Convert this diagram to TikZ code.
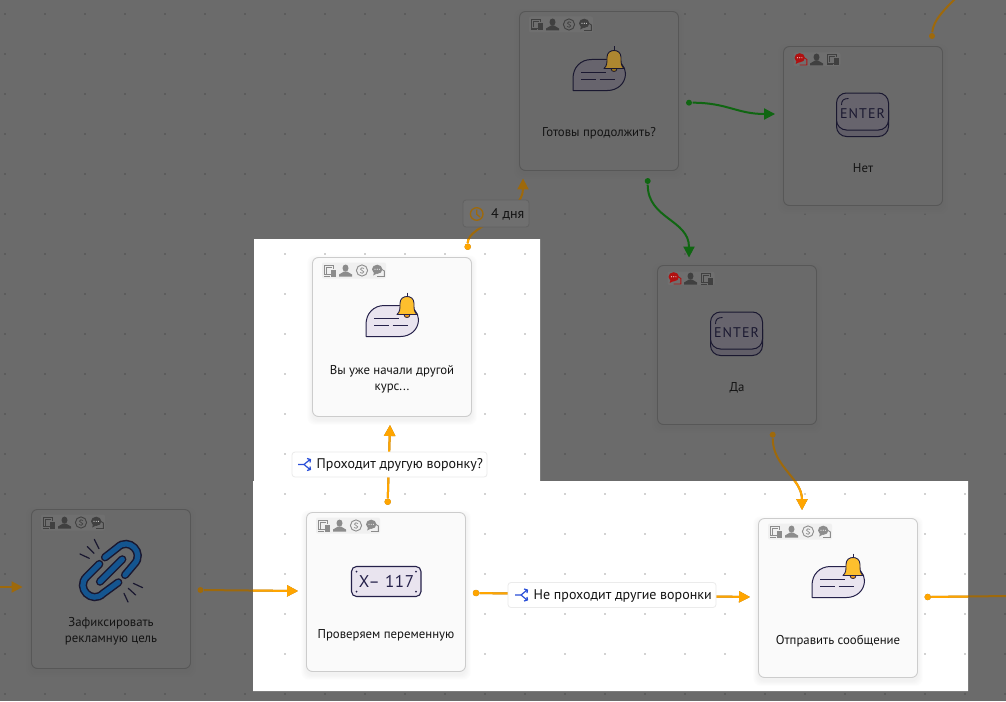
\documentclass[tikz,border=0pt]{standalone}
\usepackage{fontspec}
\setmainfont{PT Sans}
\newfontfamily\keyfont[LetterSpace=8]{PT Sans}
\newfontfamily\platefont[LetterSpace=4]{PT Sans}
\usetikzlibrary{arrows.meta}
\definecolor{bgdark}{HTML}{6B6B6B}
\definecolor{dotdark}{HTML}{5C5C5C}
\definecolor{dotlight}{HTML}{D2D2D2}
\definecolor{orangehi}{HTML}{FFA500}
\definecolor{orangelo}{HTML}{9E690B}
\definecolor{greenlo}{HTML}{106612}
\definecolor{blueic}{HTML}{2A4FD8}
\definecolor{zafblue}{HTML}{145590}
\definecolor{chatred}{HTML}{B01010}
\definecolor{LE}{HTML}{E9E4EF}
\definecolor{LB}{HTML}{FDBF2D}
\definecolor{LC}{HTML}{F5A01E}
\definecolor{LI}{HTML}{25214A}
\definecolor{LK}{HTML}{DDD7E6}
\definecolor{DE}{HTML}{67646D}
\definecolor{DB}{HTML}{AE8730}
\definecolor{DC}{HTML}{A0781A}
\definecolor{DI}{HTML}{1A1830}
\definecolor{DK}{HTML}{615E68}
\definecolor{DF}{HTML}{6A6A6A}
\definecolor{DL}{HTML}{575757}
\definecolor{DBG}{HTML}{6F6F6F}
\definecolor{DIC}{HTML}{404040}
\newcommand\lightset{%
  \colorlet{cardfill}{white!98!black}\colorlet{cardline}{black!20}%
  \colorlet{icbg}{black!6}\colorlet{ic}{black!45}%
  \colorlet{bub}{LE}\colorlet{bellc}{LB}\colorlet{bellk}{LC}%
  \colorlet{ink}{LI}\colorlet{txt}{black!92}\colorlet{keyb}{LK}\colorlet{shadowbase}{white}\def\shadowstep{1}}
\newcommand\darkset{%
  \colorlet{cardfill}{DF}\colorlet{cardline}{DL}%
  \colorlet{icbg}{DBG}\colorlet{ic}{DIC}%
  \colorlet{bub}{DE}\colorlet{bellc}{DB}\colorlet{bellk}{DC}%
  \colorlet{ink}{DI}\colorlet{txt}{black!92}\colorlet{keyb}{DK}\colorlet{shadowbase}{bgdark}\def\shadowstep{.6}}
\tikzset{
  cardnode/.style={draw=cardline,fill=cardfill,line width=.9pt,rounded corners=6pt,minimum width=159pt,minimum height=159pt,inner sep=0pt},
  cardtext/.style={text=txt,font=\fontsize{12.8}{16}\selectfont,align=center,inner sep=0pt},
  linktext/.style={text=black!92,font=\fontsize{14}{16}\selectfont,inner sep=0pt,anchor=west},
  lightlabel/.style={draw=black!8,fill=white,line width=.8pt,rounded corners=3pt,inner sep=0pt},
  darklabel/.style={draw=black!62,fill=DBG,line width=.8pt,rounded corners=3pt,inner sep=0pt},
  linkline/.style={line width=2pt,-{Triangle[length=11pt,width=11pt]}},
  plainline/.style={line width=2pt},
  portdot/.style={circle,inner sep=0pt,minimum size=7pt},
}
% ---------- small icons ----------
\newcommand\icdev[2]{\begin{scope}[shift={(#1,#2)}]
  \draw[ic,line width=.9pt] (8,10) -- (1,10) -- (1,1) -- (10,1) -- (10,4);
  \draw[ic,line width=.9pt] (3,9) -- (3,3) -- (8,3);
  \fill[ic] (7,5) rectangle (12,12);
  \fill[ic] (0,11) rectangle (6,12);
\end{scope}}
\newcommand\icperson[2]{\begin{scope}[shift={(#1,#2)}]
  \fill[ic] (6.5,3.6) ellipse (3 and 3.6);
  \fill[ic] (0,12) -- (0,10) .. controls (1,8.4) and (4,8.6) .. (5,7) -- (8,7) .. controls (9,8.6) and (12,8.4) .. (13,10) -- (13,12) -- cycle;
\end{scope}}
\newcommand\iccoin[2]{\begin{scope}[shift={(#1,#2)}]
  \draw[ic,line width=.9pt] (6,6) circle (5.6);
  \draw[ic,line width=.7pt] (8,4) .. controls (7,2.8) and (4.4,3) .. (4.4,4.6) .. controls (4.4,6.6) and (7.8,5.4) .. (7.8,7.4) .. controls (7.8,9) and (5,9.2) .. (4,8);
\end{scope}}
\newcommand\icchat[2]{\begin{scope}[shift={(#1,#2)}]
  \draw[ic,line width=.9pt] (10,5) -- (12.4,6.5) -- (12.4,12) -- (5,12);
  \fill[ic] (5.2,4.8) ellipse (5.2 and 4.6);
  \fill[ic] (2,8) -- (1.2,11) -- (5,9) -- cycle;
  \fill[white!80!ic] (3,4.8) circle (.6) (5.2,4.8) circle (.6) (7.4,4.8) circle (.6);
\end{scope}}
\newcommand\iconsA{%
  \fill[icbg,rounded corners=2pt] (9.5,5) rectangle (73.5,21);
  \icdev{11}{7}\icperson{26.5}{7}\iccoin{43.5}{7}\icchat{59.5}{7}}
\newcommand\iconsB{%
  \fill[icbg,rounded corners=2pt] (10,6) rectangle (57,19.5);
  \begingroup\colorlet{ic}{chatred}\icchat{11}{6.5}\endgroup
  \icperson{26.5}{7}\icdev{43}{7}}
% ---------- large icons ----------
\newcommand\msgicon{%
  \draw[ink,fill=bub,line width=1pt,line join=round] (53.5,79) -- (53.5,67) .. controls (53.5,56) and (61,48) .. (72,48) -- (92,48) .. controls (100,48) and (106,55) .. (106,62) .. controls (106,72) and (98,79) .. (88,79) -- cycle;
  \draw[ink,line width=.9pt] (61.5,61) -- (86.5,61) (61.5,68) -- (76,68) (80,68) -- (95.5,68);
  \begin{scope}[shift={(94.5,35)}]
    \draw[ink,line width=.8pt] (0,0) -- (0,4);
    \draw[ink,fill=bellk,line width=.8pt] (-3,22) .. controls (-3,26) and (3,26) .. (3,22) -- cycle;
    \draw[ink,fill=bellc,line width=.9pt,line join=round] (-10,22) .. controls (-7,19) and (-7,17) .. (-7,11) .. controls (-7,6) and (-3.5,4) .. (0,4) .. controls (3.5,4) and (7,6) .. (7,11) .. controls (7,17) and (7,19) .. (10,22) -- cycle;
  \end{scope}}
\newcommand\enter[1]{%
  \draw[ink,fill=keyb,line width=1pt,rounded corners=10pt] (53,54) rectangle (105,90);
  \draw[ink,fill=bub,line width=1pt,rounded corners=10pt] (53,46.5) rectangle (105,83.5);
  \draw[ink,line width=.9pt] (58,58.5) .. controls (58,54) and (60,52) .. (65,52);
  \node[text=ink,font=\keyfont\fontsize{14}{14}\selectfont,inner sep=0pt] (#1) at (79,67.5) {ENTER};}
% ---------- card box ----------
\newcommand\cardbox[3]{%
  \foreach \s in {5,4,...,1}{\pgfmathsetmacro\shadowmix{100-(6-\s)*\shadowstep}\fill[shadowbase!\shadowmix!black,rounded corners=7pt] ({#2-79.5-\s},{#3-79.5-\s+3}) rectangle ({#2+79.5+\s},{#3+79.5+\s+3});}
  \node[cardnode] (#1) at (#2,#3) {};}
% ---------- connectors, drawn twice: dimmed, then lit inside the windows ----------
\newcommand\linkpaths{%
  \draw[plainline,lo] (d8) .. controls +(1,-16) and +(-10,10) .. (freeA);
  \fill[lo] (d8) circle (3);
  \draw[linkline,lo] (freeB) -- ([xshift=-8.5pt,yshift=2pt]zaf.west);
  \draw[linkline,lo] (d1) -- ([xshift=-8pt,yshift=1pt]check.west);
  \fill[lo] (d1) circle (3);
  \draw[linkline,lo] (d2) -- ([xshift=-2pt,yshift=-8pt]course.south);
  \fill[lo] (d2) circle (3.2);
  \draw[linkline,lo] (d3) -- ([xshift=-8pt,yshift=1pt]send.west);
  \fill[lo] (d3) circle (3.2);
  \draw[plainline,lo] (d4) -- (freeC);
  \fill[lo] (d4) circle (3.2);
  \draw[linkline,lo] (d5) .. controls +(0,32) and +(0,-32) .. ([xshift=-36pt,yshift=8pt]send.north);
  \fill[lo] (d5) circle (3);
  \draw[linkline,lo] (d6) .. controls +(0,-22) and +(0,37) .. ([xshift=-76pt,yshift=-7.5pt]ready.south);
  \fill[lo] (d6) circle (3.2);}
\begin{document}
\begin{tikzpicture}[x=1pt,y=-1pt]
\useasboundingbox (0,0) rectangle (1006,701);
\fill[bgdark] (0,0) rectangle (1006,701);
\foreach \x in {5,45,...,1005}\foreach \y in {14,54,...,694}{\fill[dotdark] (\x-1,\y-1) rectangle (\x+1,\y+1);}
\fill[white] (254,239) rectangle (540,481) (253,481) rectangle (968,691);
\begin{scope}
  \clip (254,239) rectangle (540,481) (253,481) rectangle (968,691);
  \foreach \x in {5,45,...,1005}\foreach \y in {14,54,...,694}{\fill[dotlight] (\x-1,\y-1) rectangle (\x+1,\y+1);}
\end{scope}
% ---------- dimmed cards ----------
\darkset
\cardbox{ready}{599}{91}
\begin{scope}[shift={(519.5,11.5)}]\iconsA\msgicon
  \node[cardtext] (readytext) at (79.5,122) {Готовы продолжить?};\end{scope}
\cardbox{no}{863}{126}
\begin{scope}[shift={(783.5,46.5)}]\iconsB\enter{noicon}
  \node[cardtext] (notext) at (79.5,121.5) {Нет};\end{scope}
\cardbox{yes}{737}{345}
\begin{scope}[shift={(657.5,265.5)}]\iconsB\enter{yesicon}
  \node[cardtext] (yestext) at (79.5,122) {Да};\end{scope}
\cardbox{zaf}{111}{589}
\begin{scope}[shift={(31.5,509.5)}]\iconsA
  \node[cardtext] (zaftext) at (79.5,122) {Зафиксировать\\рекламную цель};\end{scope}
\begin{scope}[shift={(60,530)},x=.3333pt,y=-.3333pt,line cap=round]
  \foreach \w/\c in {8.2/DI,5.2/zafblue}{
  \draw[\c,line width=\w pt] (135,82) -- (172,53) .. controls (206,19) and (256,69) .. (222,103) -- (195,135);
  \draw[\c,line width=\w pt] (118,102) -- (80,140) .. controls (46,174) and (96,224) .. (130,190) -- (175,157);
  \draw[\c,line width=\w pt] (120,155) -- (187,88);}
  \draw[DI,line width=1.2pt] (60,72) -- (88,85) (82,50) -- (102,70) (103,28) -- (117,56) (220,160) -- (248,173) (205,175) -- (227,195) (192,190) -- (204,216);
\end{scope}
% ---------- lit cards ----------
\lightset
\cardbox{course}{392}{337}
\begin{scope}[shift={(312.5,257.5)}]\iconsA\msgicon
  \node[cardtext] (coursetext) at (79.5,122) {Вы уже начали другой\\курс...};\end{scope}
\cardbox{check}{386}{592}
\begin{scope}[shift={(306.5,512.5)}]\iconsA
  \draw[ink,fill=bub,line width=1.1pt,rounded corners=5pt] (45,54) rectangle (114.5,84);
  \fill[ink] (50,59) circle (1) (109.5,59) circle (1) (50,79) circle (1) (109.5,79) circle (1);
  \node[text=ink,font=\platefont\fontsize{17}{17}\selectfont,inner sep=0pt] (plate) at (80,69) {X– 117};
  \node[cardtext] (checktext) at (79.5,122.5) {Проверяем переменную};\end{scope}
\cardbox{send}{838}{598}
\begin{scope}[shift={(758.5,518.5)}]\iconsA\msgicon
  \node[cardtext] (sendtext) at (79.5,122.5) {Отправить сообщение};\end{scope}
% ---------- port dots and free ends ----------
\node[portdot] (d1) at (200.5,590) {};
\node[portdot] (d2) at (387.7,501.7) {};
\node[portdot] (d3) at (476,593) {};
\node[portdot] (d4) at (927.7,597) {};
\node[portdot] (d5) at (772.7,434.7) {};
\node[portdot] (d6) at (467.7,246.7) {};
\node[portdot] (d7) at (689,102.7) {};
\node[portdot] (d8) at (932,36) {};
\node[portdot] (d9) at (647.7,181) {};
\coordinate (freeA) at (956,-2);
\coordinate (freeB) at (-2,587);
\coordinate (freeC) at (1008,596);
% ---------- connectors ----------
\colorlet{lo}{orangelo}\linkpaths
\begin{scope}
  \clip (254,239) rectangle (540,481) (253,481) rectangle (968,691);
  \colorlet{lo}{orangehi}\linkpaths
\end{scope}
\draw[linkline,greenlo] (d7) .. controls +(38,0) and +(-38,0) .. ([xshift=-8pt,yshift=12pt]no.west);
\fill[greenlo] (d7) circle (3);
\draw[linkline,greenlo] (d9) .. controls +(0,38) and +(0,-38) .. ([xshift=-48pt,yshift=7.5pt]yes.north);
\fill[greenlo] (d9) circle (3);
% ---------- connector labels ----------
\node[darklabel,minimum width=66pt,minimum height=27pt] (daysbox) at (496,213.5) {};
\draw[orangelo,line width=1.3pt] (476.7,214) circle (6.3) (476.7,209.5) -- (476.7,214.3) -- (480,217);
\node[linktext] (days) at (491,214.5) {4 дня};
\node[lightlabel,minimum width=195pt,minimum height=25pt] (askbox) at (389.5,464.5) {};
\begin{scope}[shift={(298,464.5)},blueic,line width=1.2pt,line join=round]
  \draw (0,0) -- (6,0) -- (12,-5) (6,0) -- (12,5) (9,-6) -- (12.5,-5) -- (12,-2) (9,6) -- (12.5,5) -- (12,2);
\end{scope}
\node[linktext] (asktext) at (316.5,465.2) {Проходит другую воронку?};
\node[lightlabel,minimum width=208pt,minimum height=25pt] (notbox) at (612,595) {};
\begin{scope}[shift={(515,595)},blueic,line width=1.2pt,line join=round]
  \draw (0,0) -- (6,0) -- (12,-5) (6,0) -- (12,5) (9,-6) -- (12.5,-5) -- (12,-2) (9,6) -- (12.5,5) -- (12,2);
\end{scope}
\node[linktext] (nottext) at (533.5,595.7) {Не проходит другие воронки};
\end{tikzpicture}
\end{document}
